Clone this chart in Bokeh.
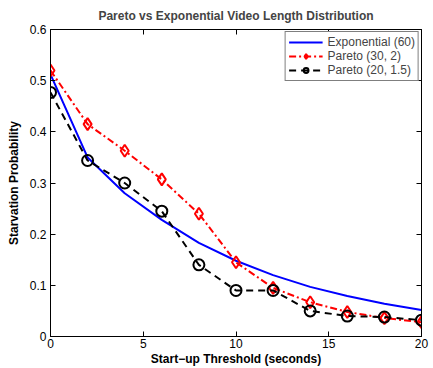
from bokeh.plotting import figure
from bokeh.models import LinearAxis, FixedTicker, Range1d, Legend
from bokeh.embed import file_html
from bokeh.resources import INLINE

x = [0, 2, 4, 6, 8, 10, 12, 14, 16, 18, 20]
exp60 = [0.512, 0.350, 0.280, 0.228, 0.183, 0.148, 0.120, 0.097, 0.079, 0.064, 0.052]
par30_2 = [0.520, 0.415, 0.363, 0.307, 0.240, 0.145, 0.095, 0.067, 0.048, 0.036, 0.028]
par20_15 = [0.477, 0.344, 0.300, 0.245, 0.140, 0.090, 0.090, 0.050, 0.040, 0.038, 0.032]
xticks = [0, 5, 10, 15, 20]
yticks = [0, 0.1, 0.2, 0.3, 0.4, 0.5, 0.6]
ylabels = {0: "0", 0.1: "0.1", 0.2: "0.2", 0.3: "0.3", 0.4: "0.4", 0.5: "0.5", 0.6: "0.6"}

FONT = "Liberation Sans"

p = figure(width=433, height=368, output_backend="svg", toolbar_location=None,
           x_range=Range1d(0, 20), y_range=Range1d(0, 0.6),
           title="Pareto vs Exponential Video Length Distribution",
           min_border_left=50, min_border_right=12, min_border_top=29, min_border_bottom=30,
           x_axis_label="Start\u2212up Threshold (seconds)", y_axis_label="Starvation Probability")
p.title.align = "center"
p.title.text_font = FONT
p.title.text_font_size = "12px"
p.title.text_font_style = "bold"
p.title.offset = 0
p.title.standoff = 13
p.xgrid.visible = False
p.ygrid.visible = False
p.outline_line_color = "black"
p.outline_line_width = 1
p.outline_line_alpha = 1
p.background_fill_color = "white"
p.border_fill_color = "white"

for ax in p.xaxis:
    ax.ticker = FixedTicker(ticks=xticks, minor_ticks=[])
    ax.major_label_standoff = 2
    ax.axis_label_standoff = 1
for ax in p.yaxis:
    ax.ticker = FixedTicker(ticks=yticks, minor_ticks=[])
    ax.major_label_overrides = ylabels
    ax.major_label_standoff = 4
    ax.axis_label_standoff = 6

for ax in list(p.xaxis) + list(p.yaxis):
    ax.major_tick_in = 5
    ax.major_tick_out = 0
    ax.minor_tick_in = 0
    ax.minor_tick_out = 0
    ax.axis_line_color = "black"
    ax.major_tick_line_color = "black"
    ax.major_label_text_font = FONT
    ax.major_label_text_font_size = "12px"
    ax.major_label_text_color = "black"
    ax.axis_label_text_font = FONT
    ax.axis_label_text_font_size = "12px"
    ax.axis_label_text_font_style = "bold"
    ax.axis_label_text_color = "black"

top = LinearAxis(ticker=FixedTicker(ticks=xticks, minor_ticks=[]),
                 major_label_overrides={t: "" for t in xticks},
                 major_tick_in=5, major_tick_out=0, minor_tick_in=0, minor_tick_out=0,
                 major_label_standoff=0)
right = LinearAxis(ticker=FixedTicker(ticks=yticks, minor_ticks=[]),
                   major_label_overrides={t: "" for t in yticks},
                   major_tick_in=5, major_tick_out=0, minor_tick_in=0, minor_tick_out=0,
                   major_label_standoff=0)
p.add_layout(top, "above")
p.add_layout(right, "right")

l1 = p.line(x, exp60, line_color="blue", line_width=2)
l2 = p.line(x, par30_2, line_color="red", line_width=2, line_dash="7 3 2 3")
s2 = p.scatter(x, par30_2, marker="diamond", size=12, line_color="red", fill_color=None, line_width=2)
l3 = p.line(x, par20_15, line_color="black", line_width=2, line_dash="7 5")
s3 = p.scatter(x, par20_15, marker="circle", size=11, line_color="black", fill_color=None, line_width=2)

legend = Legend(items=[("Exponential (60)", [l1]),
                       ("Pareto (30, 2)", [l2, s2]),
                       ("Pareto (20, 1.5)", [l3, s3])],
                location="top_right")
legend.label_text_font = FONT
legend.label_text_font_size = "12px"
legend.glyph_width = 34
legend.glyph_height = 12
legend.label_height = 12
legend.spacing = 0
legend.padding = 3
legend.margin = 2
legend.label_standoff = 5
legend.border_line_color = "black"
legend.border_line_width = 1
legend.background_fill_alpha = 1
p.add_layout(legend, "center")

open("out.html", "w").write(file_html(p, INLINE))
